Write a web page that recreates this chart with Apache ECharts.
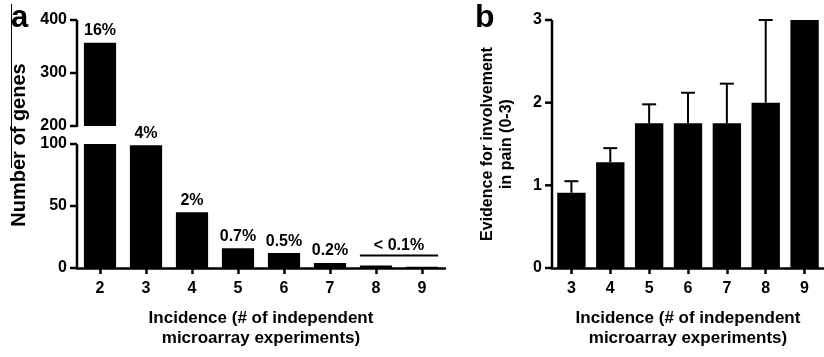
<!DOCTYPE html>
<html>
<head>
<meta charset="utf-8">
<script src="https://cdn.jsdelivr.net/npm/echarts@6/dist/echarts.min.js"></script>
<style>
  html, body { margin: 0; padding: 0; background: #fff; }
  #chart { width: 824px; height: 357px; }
</style>
</head>
<body>
<div id="chart"></div>
<script>
// panel a - number of genes per incidence (broken y axis)
const incidenceA = ['2', '3', '4', '5', '6', '7', '8', '9'];
const geneCounts = [357, 99, 45, 16, 12, 4, 2, 1];
const genePct = ['16%', '4%', '2%', '0.7%', '0.5%', '0.2%', '', ''];
const smallGroup = ['8', '9'];
const smallGroupLabel = '< 0.1%';
const upperTicks = [200, 300, 400];
const lowerTicks = [0, 50, 100];

// panel b - evidence for involvement in pain (mean + upper error)
const incidenceB = ['3', '4', '5', '6', '7', '8', '9'];
const painMean = [0.91, 1.28, 1.75, 1.75, 1.75, 2.0, 3.0];
const painUpper = [1.05, 1.45, 1.98, 2.12, 2.23, 3.0, 3.0];
const painTicks = [0, 1, 2, 3];

const xTitle = 'Incidence (# of independent\nmicroarray experiments)';
const FONT = '"Liberation Sans", Arial, Helvetica, sans-serif';

const chart = echarts.init(document.getElementById('chart'));

function labelOpt(margin) {
    return { show: true, margin: margin, color: '#000', fontSize: 16, fontWeight: 'bold', fontFamily: FONT };
}

function catAxis(grid, cats, named) {
    return {
        type: 'category',
        gridIndex: grid,
        data: cats,
        show: named !== undefined,
        axisLine: { show: true, lineStyle: { color: '#000', width: 2.5 } },
        axisTick: { show: true, alignWithLabel: true, length: 6, lineStyle: { color: '#000', width: 2.5 } },
        axisLabel: labelOpt(13),
        splitLine: { show: false },
        name: named || '',
        nameLocation: 'middle',
        nameGap: 40,
        nameTextStyle: { color: '#000', fontSize: 17, fontWeight: 'bold', fontFamily: FONT, lineHeight: 20 }
    };
}

// value axes: labels from ECharts, line + ticks added as graphics below
function valAxis(grid, ticks) {
    return {
        type: 'value',
        gridIndex: grid,
        min: ticks[0],
        max: ticks[ticks.length - 1],
        interval: ticks[1] - ticks[0],
        axisLine: { show: false },
        axisTick: { show: false },
        axisLabel: labelOpt(10),
        splitLine: { show: false }
    };
}

const pctLabel = (test) => ({
    show: true,
    position: 'top',
    distance: 4,
    color: '#000',
    fontSize: 16,
    fontWeight: 'bold',
    fontFamily: FONT,
    formatter: (p) => (test(p.value) ? genePct[p.dataIndex] : '')
});

const yB = valAxis(2, painTicks);
yB.name = 'Evidence for involvement\nin pain (0-3)';
yB.nameLocation = 'middle';
yB.nameGap = 36;
yB.nameTextStyle = { color: '#000', fontSize: 16, fontWeight: 'bold', fontFamily: FONT, lineHeight: 19 };

const groupIdx = smallGroup.map((c) => incidenceA.indexOf(c));
const groupMax = Math.max.apply(null, groupIdx.map((i) => geneCounts[i]));

const baseGraphic = [
    { type: 'line', z: 100, shape: { x1: 11.5, y1: 4, x2: 11.5, y2: 168 }, style: { stroke: '#000', lineWidth: 1 } },
    { type: 'text', z: 100, x: 11, y: 34, style: { text: 'a', font: 'bold 31px ' + FONT, fill: '#000', verticalAlign: 'bottom' } },
    { type: 'text', z: 100, x: 475, y: 34, style: { text: 'b', font: 'bold 32px ' + FONT, fill: '#000', verticalAlign: 'bottom' } },
    {
        type: 'text', z: 100, x: 19, y: 145, rotation: Math.PI / 2,
        style: { text: 'Number of genes', font: 'bold 20px ' + FONT, fill: '#000', align: 'center', verticalAlign: 'middle' }
    }
];

const option = {
    animation: false,
    grid: [
        { left: 77, top: 20, width: 368, height: 106 },
        { left: 77, top: 144, width: 368, height: 124 },
        { left: 552, top: 20, width: 276, height: 248 }
    ],
    xAxis: [
        catAxis(0, incidenceA),
        catAxis(1, incidenceA, xTitle),
        catAxis(2, incidenceB, xTitle)
    ],
    yAxis: [
        valAxis(0, upperTicks),
        valAxis(1, lowerTicks),
        yB
    ],
    graphic: baseGraphic,
    series: [
        {
            type: 'bar', xAxisIndex: 0, yAxisIndex: 0, data: geneCounts,
            barWidth: '70%', clip: true, itemStyle: { color: '#000' },
            label: pctLabel((v) => v > upperTicks[0])
        },
        {
            type: 'bar', xAxisIndex: 1, yAxisIndex: 1, data: geneCounts,
            barWidth: '70%', clip: true, itemStyle: { color: '#000' },
            label: pctLabel((v) => v <= lowerTicks[lowerTicks.length - 1])
        },
        {
            type: 'custom', xAxisIndex: 1, yAxisIndex: 1,
            data: [[groupIdx[0], groupIdx[1], groupMax]],
            encode: { x: [0, 1], y: 2 },
            z: 5,
            renderItem: function (params, api) {
                const a = api.coord([api.value(0), api.value(2)]);
                const b = api.coord([api.value(1), api.value(2)]);
                const half = api.size([1, 0])[0] * 0.35;
                const y = a[1] - 10;
                return {
                    type: 'group',
                    children: [
                        { type: 'line', shape: { x1: a[0] - half, y1: y, x2: b[0] + half, y2: y }, style: { stroke: '#000', lineWidth: 2 } },
                        { type: 'text', x: (a[0] + b[0]) / 2, y: y - 2, style: { text: smallGroupLabel, font: 'bold 16px ' + FONT, fill: '#000', align: 'center', verticalAlign: 'bottom' } }
                    ]
                };
            }
        },
        {
            type: 'bar', xAxisIndex: 2, yAxisIndex: 2, data: painMean,
            barWidth: '73%', itemStyle: { color: '#000' }
        },
        {
            type: 'custom', xAxisIndex: 2, yAxisIndex: 2,
            data: painMean.map((m, i) => [i, m, painUpper[i]]),
            encode: { x: 0, y: [1, 2] },
            z: 5,
            renderItem: function (params, api) {
                const base = api.coord([api.value(0), api.value(1)]);
                const top = api.coord([api.value(0), api.value(2)]);
                if (base[1] - top[1] < 1) return null;
                const cap = 7;
                return {
                    type: 'group',
                    children: [
                        { type: 'line', shape: { x1: base[0], y1: base[1], x2: top[0], y2: top[1] }, style: { stroke: '#000', lineWidth: 2 } },
                        { type: 'line', shape: { x1: top[0] - cap, y1: top[1], x2: top[0] + cap, y2: top[1] }, style: { stroke: '#000', lineWidth: 2 } }
                    ]
                };
            }
        }
    ]
};

chart.setOption(option);

// y axis lines and outward ticks, positioned through the chart's own scales
const axisGraphic = [];
[[0, upperTicks], [1, lowerTicks], [2, painTicks]].forEach(function (item) {
    const finder = { xAxisIndex: item[0], yAxisIndex: item[0] };
    const ticks = item[1];
    const c0 = chart.convertToPixel(finder, [0, ticks[0]]);
    const c1 = chart.convertToPixel(finder, [1, ticks[0]]);
    const x = c0[0] - (c1[0] - c0[0]) / 2;
    const ys = ticks.map((v) => chart.convertToPixel(finder, [0, v])[1]);
    const st = { stroke: '#000', lineWidth: 2.5 };
    axisGraphic.push({ type: 'line', z: 100, shape: { x1: x, y1: ys[0] + 1, x2: x, y2: ys[ys.length - 1] }, style: st });
    ys.forEach((y) => {
        axisGraphic.push({ type: 'line', z: 100, shape: { x1: x - 7, y1: y, x2: x, y2: y }, style: st });
    });
});
chart.setOption({ graphic: baseGraphic.concat(axisGraphic) });
</script>
</body>
</html>
